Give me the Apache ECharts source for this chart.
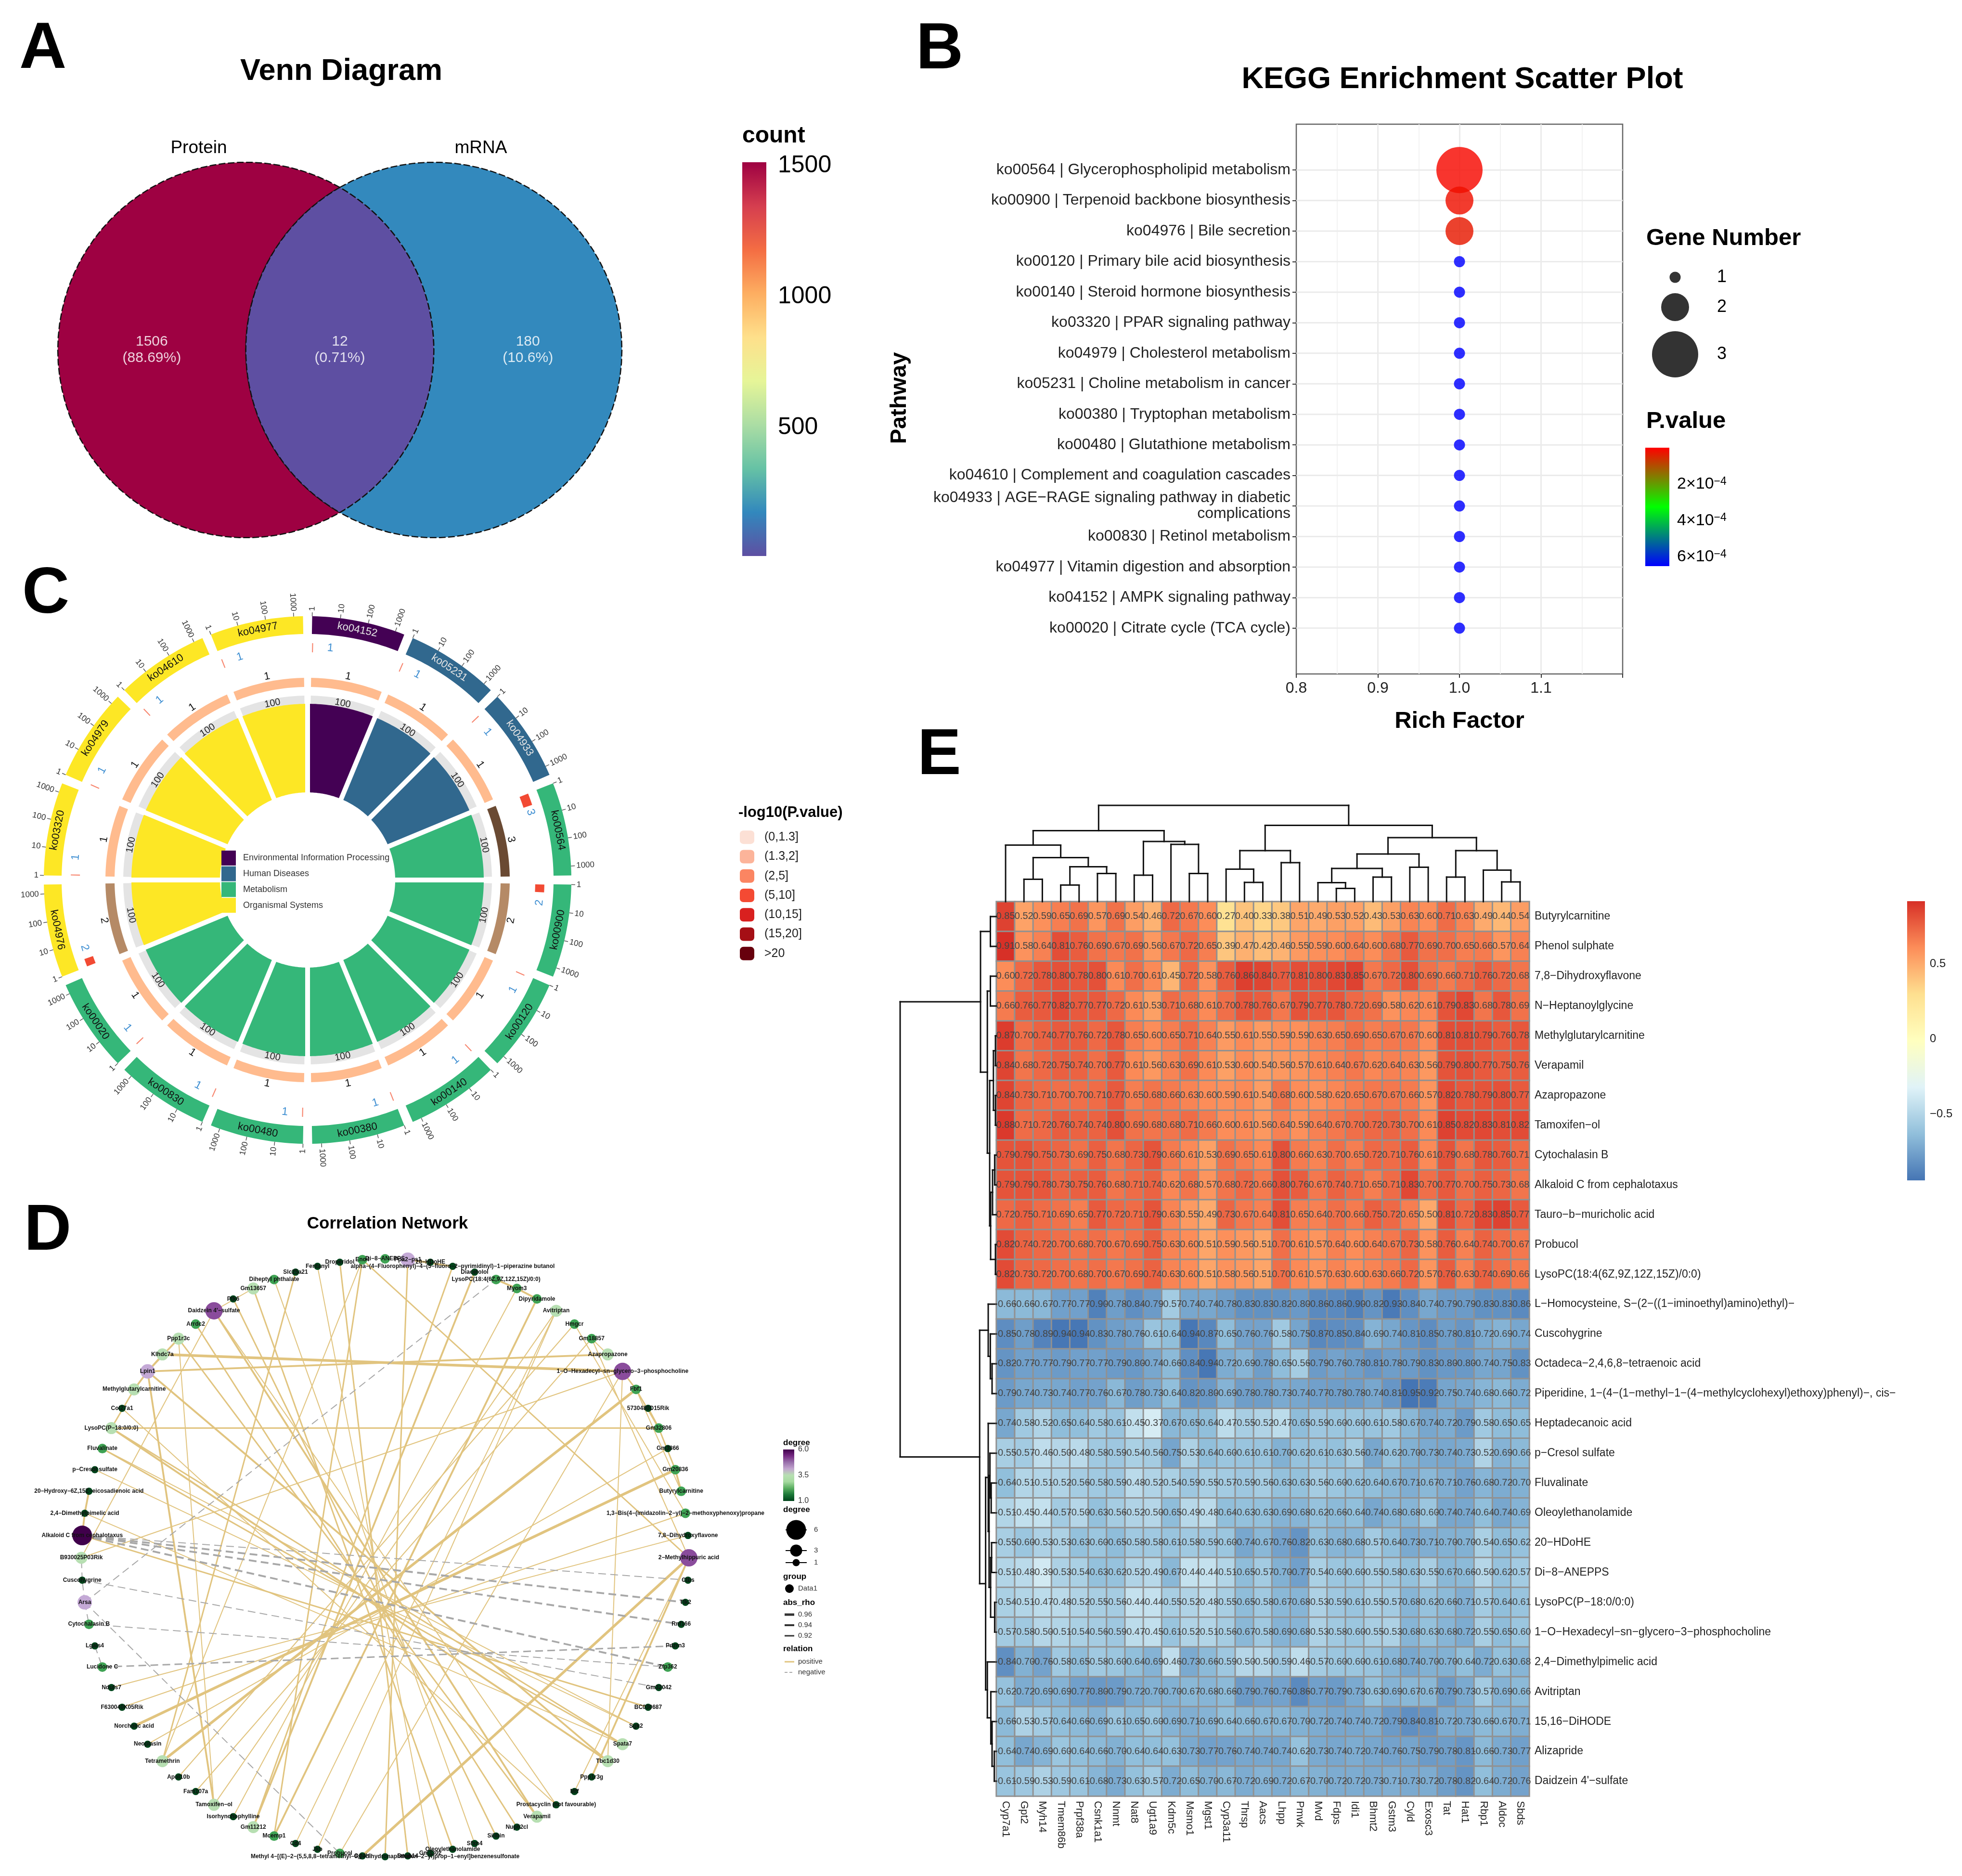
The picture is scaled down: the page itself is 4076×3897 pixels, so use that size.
<!DOCTYPE html>
<html><head><meta charset="utf-8">
<style>html,body{margin:0;padding:0;background:#fff}#c{width:4076px;height:3897px}</style>
<script src="https://cdn.jsdelivr.net/npm/echarts@6/dist/echarts.min.js"></script>
</head><body><div id="c"></div>
<script>
// ---------- DATA ----------
const vennSets=['Protein','mRNA'];
const vennCounts=[1506,12,180];
const vennPercents=['88.69%','0.71%','10.6%'];
const countTicks=[500,1000,1500];
const spectral=['#9E0142','#D53E4F','#F46D43','#FDAE61','#FEE08B','#E6F598','#ABDDA4','#66C2A5','#3288BD','#5E4FA2'];

const keggPathways=['ko00564 | Glycerophospholipid metabolism','ko00900 | Terpenoid backbone biosynthesis','ko04976 | Bile secretion','ko00120 | Primary bile acid biosynthesis','ko00140 | Steroid hormone biosynthesis','ko03320 | PPAR signaling pathway','ko04979 | Cholesterol metabolism','ko05231 | Choline metabolism in cancer','ko00380 | Tryptophan metabolism','ko00480 | Glutathione metabolism','ko04610 | Complement and coagulation cascades','ko04933 | AGE−RAGE signaling pathway in diabetic\ncomplications','ko00830 | Retinol metabolism','ko04977 | Vitamin digestion and absorption','ko04152 | AMPK signaling pathway','ko00020 | Citrate cycle (TCA cycle)'];
const keggRich=[1,1,1,1,1,1,1,1,1,1,1,1,1,1,1,1];
const keggGenes=[3,2,2,1,1,1,1,1,1,1,1,1,1,1,1,1];
const keggP=[0.00001,0.00002,0.00003,0.00065,0.00065,0.00065,0.00065,0.00065,0.00065,0.00065,0.00065,0.00065,0.00065,0.00065,0.00065,0.00065];
const geneSizes={1:23,2:58,3:96};

const goIds=['ko04152','ko05231','ko04933','ko00564','ko00900','ko00120','ko00140','ko00380','ko00480','ko00830','ko00020','ko04976','ko03320','ko04979','ko04610','ko04977'];
const goClass=[0,1,1,2,2,2,2,2,2,2,2,3,3,3,3,3];
const goGenes=[1,1,1,3,2,1,1,1,1,1,1,2,1,1,1,1];
const goRich=[100,100,100,100,100,100,100,100,100,100,100,100,100,100,100,100];
const classNames=['Environmental Information Processing','Human Diseases','Metabolism','Organismal Systems'];
const goAxisTicks=[1,10,100,1000];
const pBins=['(0,1.3]','(1.3,2]','(2,5]','(5,10]','(10,15]','(15,20]','>20'];

const netNodes=['Di−8−ANEPPS','Ppa2−ps1','20−HDoHE','alpha−(4−Fluorophenyl)−4−(5−fluoro−2−pyrimidinyl)−1−piperazine butanol','Diacetolol','LysoPC(18:4(6Z,9Z,12Z,15Z)/0:0)','Myom3','Dipyridamole','Avitriptan','Hmgcr','Gm18857','Azapropazone','1−O−Hexadecyl−sn−glycero−3−phosphocholine','Fbf1','5730480D15Rik','Gm32806','Gm3866','Gm20836','Butyrylcarnitine','1,3−Bis(4−(imidazolin−2−yl)−2−methoxyphenoxy)propane','7,8−Dihydroxyflavone','2−Methylhippuric acid','Ctbs','Tlk2','Rnf166','Pdzrn3','Zfp362','Gm32042','BC030687','Sgk2','Spata7','Tbc1d30','Ppp1r3g','Mff','Prostacyclin (not favourable)','Verapamil','Nup62cl','Silibin','Sfxn4','Oleoylethanolamide','Gm3302','Dnah14','Methyl 4−[(E)−2−(5,5,8,8−tetramethyl−6,7−dihydronaphthalen−2−yl)prop−1−enyl]benzenesulfonate','Ogdhl','Probucol','Jkb','Cd4','Mcemp1','Gm11212','Isorhynchophylline','Tamoxifen−ol','Fam107a','Apol10b','Tetramethrin','Neoplasin','Norcholic acid','F630040K05Rik','Ndufs7','Lucidone C','Lgals4','Cytochalasin B','Arsa','Cuscohygrine','B930025P03Rik','Alkaloid C from cephalotaxus','2,4−Dimethylpimelic acid','20−Hydroxy−6Z,15Z−eicosadienoic acid','p−Cresol sulfate','Fluvalinate','LysoPC(P−18:0/0:0)','Col27a1','Methylglutarylcarnitine','Lpin1','Klhdc7a','Ppp1r3c','Arrdc2','Daidzein 4\'−sulfate','Ptk6','Gm13657','Diheptyl phthalate','Slc25a21','Fentanyl','Droperidol','Eno4'];
const netDegree=[2,4,1,1,1,2,2,2,3,2,2,3,5,2,1,2,1,2,2,2,1,5,1,1,1,1,2,1,1,1,3,3,1,1,1,3,1,1,1,1,1,1,1,1,2,1,1,2,3,1,3,1,1,3,1,1,1,1,2,1,2,4,1,3,6,1,1,1,2,3,1,3,4,3,3,2,5,1,3,2,1,1,1,2];
const edgesPositive=[[1,2,.94],[1,3,.96],[5,6,.96],[6,7,.96],[10,11,.90],[12,13,.94],[13,15,.94],[14,15,.95],[15,17,.93],[17,18,.95],[76,78,.90],[72,73,.94],[72,74,.95],[72,71,.95],[71,69,.94],[66,65,.96],[65,64,.95],
[73,12,.97],[72,11,.95],[69,15,.93],[72,50,.95],[72,31,.95],[74,50,.90],[74,35,.93],[76,35,.95],[76,34,.92],[76,63,.91],[75,36,.93],[77,37,.94],[78,39,.94],[79,38,.90],[80,53,.94],[81,40,.90],[82,41,.93],[1,42,.93],[83,47,.93],[83,53,.90],[83,21,.93],[3,48,.93],[4,48,.96],[6,49,.90],[7,47,.95],[8,45,.92],[8,46,.91],[8,50,.90],[9,52,.90],[10,51,.90],[12,63,.92],[12,31,.92],[12,44,.90],[13,53,.97],[16,54,.91],[17,55,.97],[19,56,.92],[20,57,.92],
[64,28,.94],[69,31,.96],[69,30,.93],[68,30,.94],[68,29,.90],[67,29,.90],[65,30,.91],[70,34,.91],[21,43,.97],[21,32,.96],[21,33,.90],[9,19,.91],[10,21,.91],[13,18,.92]];
const edgesNegative=[[64,22,.90],[64,23,.95],[64,24,.96],[64,26,.96],[62,27,.92],[60,26,.91],[58,25,.93],[61,5,.92],[61,44,.92],[61,60,.91],[61,62,.91],[62,63,.91],[59,58,.91]];

const heatCols=['Cyp7a1','Gpt2','Myh14','Tmem86b','Prpf38a','Csnk1a1','Nnmt','Nat8','Ugt1a9','Kdm5c','Msmo1','Mgst1','Cyp3a11','Thrsp','Aacs','Lhpp','Pmvk','Mvd','Fdps','Idi1','Bhmt2','Gstm3','Cyld','Exosc3','Tat','Hat1','Rbp1','Aldoc','Sbds'];
const heatRows=['Butyrylcarnitine','Phenol sulphate','7,8−Dihydroxyflavone','N−Heptanoylglycine','Methylglutarylcarnitine','Verapamil','Azapropazone','Tamoxifen−ol','Cytochalasin B','Alkaloid C from cephalotaxus','Tauro−b−muricholic acid','Probucol','LysoPC(18:4(6Z,9Z,12Z,15Z)/0:0)','L−Homocysteine, S−(2−((1−iminoethyl)amino)ethyl)−','Cuscohygrine','Octadeca−2,4,6,8−tetraenoic acid','Piperidine, 1−(4−(1−methyl−1−(4−methylcyclohexyl)ethoxy)phenyl)−, cis−','Heptadecanoic acid','p−Cresol sulfate','Fluvalinate','Oleoylethanolamide','20−HDoHE','Di−8−ANEPPS','LysoPC(P−18:0/0:0)','1−O−Hexadecyl−sn−glycero−3−phosphocholine','2,4−Dimethylpimelic acid','Avitriptan','15,16−DiHODE','Alizapride','Daidzein 4\'−sulfate'];
const heatUpper=[ // positive correlations, hundredths
[85,52,59,65,69,57,69,54,46,72,67,60,27,40,33,38,51,49,53,52,43,53,63,60,71,63,49,44,54],
[91,58,64,81,76,69,67,69,56,67,72,65,39,47,42,46,55,59,60,64,60,68,77,69,70,65,66,57,64],
[60,72,78,80,78,80,61,70,61,45,72,58,76,86,84,77,81,80,83,85,67,72,80,69,66,71,76,72,68],
[66,76,77,82,77,77,72,61,53,71,68,61,70,78,76,67,79,77,78,72,69,58,62,61,79,83,68,78,69],
[87,70,74,77,76,72,78,65,60,65,71,64,55,61,55,59,59,63,65,69,65,67,67,60,81,81,79,76,78],
[84,68,72,75,74,70,77,61,56,63,69,61,53,60,54,56,57,61,64,67,62,64,63,56,79,80,77,75,76],
[84,73,71,70,70,71,77,65,68,66,63,60,59,61,54,68,60,58,62,65,67,67,66,57,82,78,79,80,77],
[88,71,72,76,74,74,80,69,68,68,71,66,60,61,56,64,59,64,67,70,72,73,70,61,85,82,83,81,82],
[79,79,75,73,69,75,68,73,79,66,61,53,69,65,61,80,66,63,70,65,72,71,76,61,79,68,78,76,71],
[79,79,78,73,75,76,68,71,74,62,68,57,68,72,66,80,76,67,74,71,65,71,83,70,77,70,75,73,68],
[72,75,71,69,65,77,72,71,79,63,55,49,73,67,64,81,65,64,70,66,75,72,65,50,81,72,83,85,77],
[82,74,72,70,68,70,67,69,75,63,60,51,59,56,51,70,61,57,64,60,64,67,73,58,76,64,74,70,67],
[82,73,72,70,68,70,67,69,74,63,60,51,58,56,51,70,61,57,63,60,63,66,72,57,76,63,74,69,66]];
const heatLower=[ // negative correlations, magnitude in hundredths
[66,66,67,77,77,90,78,84,79,57,74,74,78,83,83,82,80,86,86,90,82,93,84,74,79,79,83,83,86],
[85,78,89,94,94,83,78,76,61,64,94,87,65,76,76,58,75,87,85,84,69,74,81,85,78,81,72,69,74],
[82,77,77,79,77,77,79,80,74,66,84,94,72,69,78,65,56,79,76,78,81,78,79,83,80,80,74,75,83],
[79,74,73,74,77,76,67,78,73,64,82,80,69,78,78,73,74,77,78,78,74,81,95,92,75,74,68,66,72],
[74,58,52,65,64,58,61,45,37,67,65,64,47,55,52,47,65,59,60,60,61,58,67,74,72,79,58,65,65],
[55,57,46,50,48,58,59,54,56,75,53,64,60,61,61,70,62,61,63,56,74,62,70,73,74,73,52,69,66],
[64,51,51,52,56,58,59,48,52,54,59,55,57,59,56,63,63,56,60,62,64,67,71,67,71,76,68,72,70],
[51,45,44,57,50,63,56,52,50,65,49,48,64,63,63,69,68,62,66,64,74,68,68,60,74,74,64,74,69],
[55,60,53,53,63,60,65,58,58,61,58,59,60,74,67,76,82,63,68,68,57,64,73,71,70,70,54,65,62],
[51,48,39,53,54,63,62,52,49,67,44,44,51,65,57,70,77,54,60,60,55,58,63,55,67,66,50,62,57],
[54,51,47,48,52,55,56,44,44,55,52,48,55,65,58,67,68,53,59,61,55,57,68,62,66,71,57,64,61],
[57,58,50,51,54,56,59,47,45,61,52,51,56,67,58,69,68,53,58,60,55,53,68,63,68,72,55,65,60],
[84,70,76,58,65,58,60,64,69,46,73,66,59,50,50,59,46,57,60,60,61,68,74,70,70,64,72,63,68],
[62,72,69,69,77,80,79,72,70,70,67,68,66,79,76,76,86,77,79,73,63,69,67,67,79,73,57,69,66],
[66,53,57,64,66,69,61,65,60,69,71,69,64,66,67,67,70,72,74,74,72,79,84,81,72,73,66,67,71],
[64,74,69,60,64,66,70,64,64,63,73,77,76,74,74,74,62,73,74,72,74,76,75,79,78,81,66,73,77],
[61,59,53,59,61,68,73,63,57,72,65,70,67,72,69,72,67,70,72,72,73,71,73,72,78,82,64,72,76]];
// dendrograms: nested [left,right,height]; leaves are column / row indices
const colTree=[
 [[0,[[1,2,.233],[[3,4,.172],[5,6,.292],.363],.458],.587],[[7,8,.275],[9,[10,11,.292],.595],.625],.737],
 [[[12,[13,14,.2],.338],[15,16,.405],.53],[[[[17,[18,19,.137],.197],[20,21,.255],.345],[22,23,.358],.495],[[24,25,.255],[26,[27,28,.205],.328],.53],.665],.792],
 1];
const rowTree=[
 [[0,1,.0625],[[2,3,.0625],[[[4,5,.01],[6,7,.01],.031],[[[8,9,.018],10,.04],[11,12,.01],.06],.07],.094],.165],
 [[13,[14,[15,16,.045],.063],.085],[[17,[[18,[19,20,.054],.067],[[21,22,.05],[23,24,.018],.06],.076],.085],[25,[26,[27,[28,29,.022],.045],.058],.094],.112],.174],
 1];

// ---------- HELPERS ----------
const FF='Liberation Sans';
const grid=[],xAxis=[],yAxis=[],series=[],graphic=[],visualMap=[];
function addGrid(r,xa,ya){grid.push({left:r.x,top:r.y,width:r.w,height:r.h,show:!!r.show,borderColor:r.bc,borderWidth:r.bw||0,backgroundColor:'transparent'});
 const i=grid.length-1;xAxis.push(Object.assign({gridIndex:i},xa));yAxis.push(Object.assign({gridIndex:i},ya));return i;}
const hid=(o)=>Object.assign({type:'value',show:false,splitLine:{show:false},axisLine:{onZero:false}},o);
function gText(text,x,y,size,o){o=o||{};graphic.push({type:'text',x,y,rotation:o.rot||0,z:50,silent:true,style:{text,fontSize:size,fontWeight:o.bold?'bold':'normal',fontFamily:FF,fill:o.fill||'#000',align:o.align||'left',verticalAlign:'middle'}});}
function colorBar(r,min,max,stops,ticks,fmt,lab,inverse){
 const g=addGrid(r,hid({min:0,max:1}),{type:'value',min,max,inverse:!!inverse,position:'right',splitLine:{show:false},axisLine:{show:false,onZero:false},
  axisTick:{show:true,customValues:ticks,inside:true,length:Math.max(5,r.w*0.2),lineStyle:{color:'#fff',width:1.5}},
  axisLabel:Object.assign({customValues:ticks,formatter:fmt,color:'#000',fontFamily:FF},lab)});
 const n=stops.length;
 series.push({type:'custom',xAxisIndex:g,yAxisIndex:g,silent:true,data:[[0,min,1,max]],z:3,
  renderItem:(p,api)=>{const a=api.coord([api.value(0),api.value(1)]),b=api.coord([api.value(2),api.value(3)]);
   return {type:'rect',shape:{x:Math.min(a[0],b[0]),y:Math.min(a[1],b[1]),width:Math.abs(a[0]-b[0]),height:Math.abs(a[1]-b[1])},
    style:{fill:new echarts.graphic.LinearGradient(0,0,0,1,stops.map((c,i)=>({offset:i/(n-1),color:c})))}};}});
}
const chartTitles=[];
const heading=(text,x,y,size)=>chartTitles.push({text,left:x,top:y,textAlign:'center',textVerticalAlign:'middle',textStyle:{fontSize:size,fontWeight:'bold',color:'#000',fontFamily:FF}});
[['A',40,103],['B',1903,104],['C',46,1235],['D',50,2558],['E',1906,1570]].forEach(l=>gText(l[0],l[1],l[2],136,{bold:true}));

// ---------- PANEL A ----------
heading('Venn Diagram',704,144,63);
gText(vennSets[0],413,308,37,{align:'center'});gText(vennSets[1],999,308,37,{align:'center'});
gText('count',1542,283,48,{bold:true});
(function(){
 const g=addGrid({x:120,y:337,w:1172,h:780},hid({min:0,max:3}),hid({min:-1,max:1}));
 const arc=(cx,a0,a1)=>{const o=[];for(let k=0;k<=60;k++){const t=(a0+(a1-a0)*k/60)*Math.PI/180;o.push([cx+Math.cos(t),Math.sin(t)]);}return o;};
 const shapes=[()=>arc(1,60,300).concat(arc(2,240,120)),()=>arc(1,-60,60).concat(arc(2,120,240)),()=>arc(2,120,-120).concat(arc(1,-60,60))];
 const labelX=[.5,1.5,2.5];
 series.push({type:'custom',xAxisIndex:g,yAxisIndex:g,silent:true,z:2,
  data:vennCounts.map((c,i)=>[labelX[i],0,c]),
  renderItem:(p,api)=>{const i=p.dataIndex,c=api.coord([api.value(0),api.value(1)]);
   return {type:'group',children:[
    {type:'polygon',shape:{points:shapes[i]().map(q=>api.coord(q))},style:{fill:api.visual('color'),stroke:'#111',lineWidth:2.5,lineDash:[14,5]}},
    {type:'text',x:c[0],y:c[1],z2:5,style:{text:vennCounts[i]+'\n('+vennPercents[i]+')',fontSize:30,lineHeight:34,fontFamily:FF,fill:'rgba(255,255,255,.82)',align:'center',verticalAlign:'middle'}}]};}});
 visualMap.push({show:false,seriesIndex:series.length-1,dimension:2,min:12,max:1506,inRange:{color:spectral.slice().reverse()}});
})();
colorBar({x:1542,y:337,w:50,h:818},9,1513,spectral,countTicks,v=>String(v),{fontSize:50,margin:24});

// ---------- PANEL B ----------
heading('KEGG Enrichment Scatter Plot',3033,161,63);
gText('Pathway',1869,827,47,{bold:true,rot:Math.PI/2,align:'center'});
gText('Rich Factor',3032,1498,49,{bold:true,align:'center'});
gText('Gene Number',3420,495,49,{bold:true});
gText('P.value',3420,875,49,{bold:true});
(function(){
 const idx=keggPathways.map((_,i)=>i);
 const g=addGrid({x:2693,y:258,w:678,h:1142,show:true,bc:'#666',bw:2.5},
  {type:'value',min:.8,max:1.2,interval:.1,
   axisLine:{show:false,onZero:false},axisTick:{length:8,lineStyle:{color:'#333',width:2}},
   axisLabel:{customValues:[.8,.9,1,1.1],formatter:v=>v.toFixed(1),fontSize:32,color:'#222',margin:14,fontFamily:FF},
   splitLine:{show:true,showMinLine:false,showMaxLine:false,lineStyle:{color:'#ebebeb',width:3}},minorTick:{show:false,splitNumber:2},minorSplitLine:{show:true,lineStyle:{color:'#f2f2f2',width:2}}},
  {type:'value',min:-1.5,max:16.5,inverse:true,
   axisLine:{show:false,onZero:false},axisTick:{length:8,customValues:idx,lineStyle:{color:'#333',width:2}},
   axisLabel:{customValues:idx,formatter:v=>keggPathways[v]||'',fontSize:32,lineHeight:33,color:'#222',margin:12,align:'right',fontFamily:FF},
   splitLine:{show:false}});
 // horizontal gridline per pathway
 series.push({type:'custom',xAxisIndex:g,yAxisIndex:g,silent:true,z:1,data:idx.map(i=>[.8,i,1.2,i]),
  renderItem:(p,api)=>{const a=api.coord([api.value(0),api.value(1)]),b=api.coord([api.value(2),api.value(3)]);
   return {type:'line',shape:{x1:a[0],y1:a[1],x2:b[0],y2:b[1]},style:{stroke:'#ebebeb',lineWidth:3}};}});
 series.push({type:'scatter',xAxisIndex:g,yAxisIndex:g,silent:true,z:4,
  data:idx.map(i=>[keggRich[i],i,keggP[i],keggGenes[i]]),
  symbolSize:v=>geneSizes[v[3]],itemStyle:{opacity:.82}});
 visualMap.push({show:false,seriesIndex:series.length-1,dimension:2,min:0,max:.00065,inRange:{color:['#FF0000','#00FF00','#0000FF']}});
 [[1,576],[2,638],[3,736]].forEach(d=>{graphic.push({type:'circle',z:40,shape:{cx:3480,cy:d[1],r:geneSizes[d[0]]/2},style:{fill:'#333'}});gText(String(d[0]),3567,d[1],36);});
 const lab=v=>'{a|'+Math.round(v*1e4)+'×10}{b|−4}';
 colorBar({x:3418,y:930,w:50,h:246},0,.00065,['#FF0000','#00FF00','#0000FF'],[.0002,.0004,.0006],lab,{margin:16,rich:{a:{fontSize:34,fontFamily:FF,color:'#000'},b:{fontSize:23,fontFamily:FF,color:'#000',verticalAlign:'top',padding:[0,0,10,0]}}},true);
})();

// ---------- PANEL C ----------
(function(){
 const classColor=['#440154','#31688E','#35B779','#FDE725'];
 const geneColor={1:'#FFBB8E',2:'#B58A66',3:'#6A4A33'};
 const redLen={1:.25,2:1.9,3:2.9};
 const step=360/goIds.length;
 const ring=(api,r0,r1,a0,a1)=>{const pts=[];const n=Math.max(2,Math.ceil(a1-a0));
   for(let k=0;k<=n;k++)pts.push(api.coord([r1,a0+(a1-a0)*k/n]));
   for(let k=n;k>=0;k--)pts.push(api.coord([r0,a0+(a1-a0)*k/n]));return pts;};
 const wedge=(api,r0,r1,s,e,g)=>{const pts=[];const off=r=>Math.asin(g/r)*180/Math.PI;const n=24;
   for(let k=0;k<=n;k++){const a0=s+off(r1),a1=e-off(r1);pts.push(api.coord([r1,a0+(a1-a0)*k/n]));}
   for(let k=n;k>=0;k--){const a0=s+off(r0),a1=e-off(r0);pts.push(api.coord([r0,a0+(a1-a0)*k/n]));}return pts;};
 const tang=a=>{a=(a+360)%360;const d=(a<90||a>270)?a:a-180;return -d*Math.PI/180;};
 const txt=(api,s,r,a,size,fill,rot,align)=>{const c=api.coord([r,a]);return {type:'text',x:c[0],y:c[1],rotation:rot,z2:6,style:{text:s,fontSize:size,fontFamily:FF,fill,align:align||'center',verticalAlign:'middle'}};};
 series.push({type:'custom',coordinateSystem:'polar',polarIndex:0,silent:true,z:2,clip:false,
  data:goIds.map((_,i)=>[goRich[i],i]),
  renderItem:(p,api)=>{const i=p.dataIndex,s=i*step,e=s+step,a0=s+1,a1=e-1,mid=s+step/2,cc=classColor[goClass[i]],gn=goGenes[i],ch=[];
   const poly=(pts,fill)=>ch.push({type:'polygon',shape:{points:pts},style:{fill}});
   poly(ring(api,511,548,a0,a1),cc);
   poly(ring(api,401,420,a0,a1),geneColor[gn]);
   poly(ring(api,364,383,a0,a1),'#E4E4E4');
   poly(wedge(api,182,182+184*goRich[i]/100,s,e,5),cc);
   poly(ring(api,473,492,a0+.1,a0+.1+redLen[gn]),gn>1?'#F24A33':'#F7866F');
   const rotT=tang(mid);
   ch.push(txt(api,goIds[i],530,mid,22,goClass[i]<2?'#e4e4e4':'#111',rotT));
   ch.push(txt(api,String(goRich[i]),374,mid,20,'#222',rotT));
   ch.push(txt(api,String(gn),431,mid,22,'#111',rotT));
   ch.push(txt(api,String(gn),484,a0+4.6,23,'#3F8FD2',tang(a0+4.6)));
   goAxisTicks.forEach(t=>{const a=a0+(a1-a0)*Math.log10(t)/3.33,p0=api.coord([548,a]),p1=api.coord([556,a]);
    ch.push({type:'line',shape:{x1:p0[0],y1:p0[1],x2:p1[0],y2:p1[1]},style:{stroke:'#555',lineWidth:1.5}});
    const right=a<180,rot=(right?90-a:270-a)*Math.PI/180;
    ch.push(txt(api,String(t),559,a,17,'#333',rot,right?'left':'right'));});
   return {type:'group',children:ch};}});
 // centre legend
 const g=addGrid({x:460,y:1766,w:30,h:131},hid({min:0,max:1}),{type:'category',inverse:true,data:classNames,axisLine:{show:false},axisTick:{show:false},position:'right',
   axisLabel:{fontSize:18,color:'#333',margin:15,interval:0,fontFamily:FF}});
 series.push({type:'scatter',xAxisIndex:g,yAxisIndex:g,silent:true,z:6,symbol:'rect',symbolSize:[30,31],
   data:classNames.map((n,i)=>({value:[.5,i],itemStyle:{color:classColor[i],opacity:1}}))});
 // -log10 legend
 gText('-log10(P.value)',1534,1688,31,{bold:true});
 const binColor=['#FCE0D5','#FCB49A','#FB8562','#F44A33','#D9201F','#A50F15','#67000D'];
 const g2=addGrid({x:1530,y:1719,w:44,h:282},hid({min:0,max:1}),{type:'category',inverse:true,data:pBins,axisLine:{show:false},axisTick:{show:false},position:'right',
   axisLabel:{fontSize:25,color:'#222',margin:14,interval:0,fontFamily:FF}});
 series.push({type:'scatter',xAxisIndex:g2,yAxisIndex:g2,silent:true,symbol:'roundRect',symbolSize:[30,28],
   data:pBins.map((n,i)=>({value:[.5,i],itemStyle:{color:binColor[i],opacity:1}}))});
})();

// ---------- PANEL D ----------
heading('Correlation Network',800,2537,35);
(function(){
 const g=addGrid({x:169,y:2615,w:1262,h:1242},hid({min:-1,max:1}),hid({min:-1,max:1}));
 const degColor={1:'#00441B',2:'#3FA354',3:'#B7DFB2',4:'#C4A9D6',5:'#8A4C9C',6:'#40004B'};
 const degSize={1:15,2:20,3:25,4:30,5:36,6:41};
 const rhoW=r=>r>=.965?5.5:r>=.945?3.8:r>=.925?3:2;
 const links=edgesPositive.map(e=>({source:e[0],target:e[1],lineStyle:{color:'#E1C47F',width:rhoW(e[2]),opacity:1,type:'solid'}}))
  .concat(edgesNegative.map(e=>({source:e[0],target:e[1],lineStyle:{color:'#A8A8A8',width:rhoW(e[2]),opacity:1,type:[16,9]}})));
 series.push({type:'graph',coordinateSystem:'cartesian2d',xAxisIndex:g,yAxisIndex:g,silent:true,z:3,
  data:netNodes.map((n,i)=>({name:n,value:[Math.sin(2*Math.PI*i/netNodes.length),Math.cos(2*Math.PI*i/netNodes.length)],symbolSize:degSize[netDegree[i]],itemStyle:{color:degColor[netDegree[i]]}})),
  links,label:{show:true,position:'inside',fontSize:12,fontWeight:'bold',color:'#111',fontFamily:FF,formatter:'{b}'},labelLayout:{hideOverlap:false},emphasis:{disabled:true}});
 // legends
 gText('degree',1627,2997,17,{bold:true});
 colorBar({x:1627,y:3011,w:23,h:107},1,6,['#40004B','#762A83','#9970AB','#C2A5CF','#B7DFB2','#A6DBA0','#5AAE61','#1B7837','#00441B'],[1,3.5,6],v=>v.toFixed(1),{fontSize:16,margin:8,color:'#333'});
 gText('degree',1627,3136,17,{bold:true});
 [[6,3178,41],[3,3221,25],[1,3246,15]].forEach(d=>{
  graphic.push({type:'line',z:40,shape:{x1:1632,y1:d[1],x2:1676,y2:d[1]},style:{stroke:'#000',lineWidth:2}});
  graphic.push({type:'circle',z:41,shape:{cx:1654,cy:d[1],r:d[2]/2},style:{fill:'#000'}});gText(String(d[0]),1691,d[1],15,{fill:'#333'});});
 gText('group',1627,3275,17,{bold:true});
 graphic.push({type:'circle',z:41,shape:{cx:1640,cy:3300,r:9},style:{fill:'#000'}});gText('Data1',1658,3300,15,{fill:'#333'});
 gText('abs_rho',1627,3329,17,{bold:true});
 [['0.96',3354,5],['0.94',3376,4],['0.92',3398,3]].forEach(d=>{graphic.push({type:'line',z:40,shape:{x1:1630,y1:d[1],x2:1650,y2:d[1]},style:{stroke:'#333',lineWidth:d[2]}});gText(d[0],1658,d[1],15,{fill:'#333'});});
 gText('relation',1627,3425,17,{bold:true});
 graphic.push({type:'line',z:40,shape:{x1:1630,y1:3452,x2:1650,y2:3452},style:{stroke:'#E1C47F',lineWidth:3}});gText('positive',1658,3452,15,{fill:'#333'});
 graphic.push({type:'line',z:40,shape:{x1:1630,y1:3474,x2:1650,y2:3474},style:{stroke:'#AAA',lineWidth:2,lineDash:[6,4]}});gText('negative',1658,3474,15,{fill:'#333'});
})();

// ---------- PANEL E ----------
(function(){
 const heatPal=['#4575B4','#91BFDB','#E0F3F8','#FFFFBF','#FEE090','#FC8D59','#D73027'];
 const g=addGrid({x:2070,y:1873,w:1107,h:1858},
  {type:'category',data:heatCols,axisLine:{show:false},axisTick:{show:false},splitLine:{show:false},axisLabel:{rotate:-90,interval:0,fontSize:22,color:'#222',margin:10,fontFamily:FF}},
  {type:'category',data:heatRows,inverse:true,position:'right',axisLine:{show:false},axisTick:{show:false},splitLine:{show:false},axisLabel:{interval:0,fontSize:23,color:'#222',margin:11,fontFamily:FF}});
 const cells=[];
 heatUpper.forEach((row,r)=>row.forEach((v,c)=>cells.push([c,r,v/100])));
 heatLower.forEach((row,r)=>row.forEach((v,c)=>cells.push([c,r+heatUpper.length,-v/100])));
 series.push({type:'heatmap',xAxisIndex:g,yAxisIndex:g,silent:true,z:2,data:cells,
  itemStyle:{borderColor:'#919191',borderWidth:3},emphasis:{disabled:true},
  label:{show:true,fontSize:20,color:'#444',fontFamily:FF,formatter:p=>p.value[2].toFixed(2)}});
 visualMap.push({show:false,seriesIndex:series.length-1,dimension:2,min:-.95,max:.91,inRange:{color:heatPal}});
 colorBar({x:3962,y:1872,w:37,h:580},-.94,.917,heatPal.slice().reverse(),[-.5,0,.5],v=>v===-.5?'−0.5':String(v),{fontSize:24,margin:10,color:'#222'});
 function tree(t,segs,horiz){ if(typeof t==='number')return {pos:t,h:0};
  const a=tree(t[0],segs,horiz),b=tree(t[1],segs,horiz),h=t[2];
  const add=(p,q,r,s)=>segs.push(horiz?[q,p,s,r]:[p,q,r,s]);
  add(a.pos,a.h,a.pos,h);add(b.pos,b.h,b.pos,h);add(a.pos,h,b.pos,h);
  return {pos:(a.pos+b.pos)/2,h};}
 const lineItem=(p,api)=>{const a=api.coord([api.value(0),api.value(1)]),b=api.coord([api.value(2),api.value(3)]);
   return {type:'line',shape:{x1:a[0],y1:a[1],x2:b[0],y2:b[1]},style:{stroke:'#111',lineWidth:3,lineCap:'square'}};};
 const gt=addGrid({x:2070,y:1673,w:1107,h:200},hid({min:-.5,max:heatCols.length-.5}),hid({min:0,max:1}));
 const s1=[];tree(colTree,s1,false);
 series.push({type:'custom',xAxisIndex:gt,yAxisIndex:gt,silent:true,data:s1,renderItem:lineItem});
 const gl=addGrid({x:1870,y:1873,w:200,h:1858},hid({min:0,max:1,inverse:true}),hid({min:-.5,max:heatRows.length-.5,inverse:true}));
 const s2=[];tree(rowTree,s2,true);
 series.push({type:'custom',xAxisIndex:gl,yAxisIndex:gl,silent:true,data:s2,renderItem:lineItem});
})();

// ---------- CHART ----------
const chart=echarts.init(document.getElementById('c'),null,{renderer:'canvas'});
chart.setOption({animation:false,backgroundColor:'#fff',textStyle:{fontFamily:FF},
 title:chartTitles,tooltip:{show:false},grid,xAxis,yAxis,series,visualMap,graphic:{elements:graphic},
 polar:[{center:[639,1828],radius:548}],
 angleAxis:[{polarIndex:0,type:'value',min:0,max:360,startAngle:90,clockwise:true,show:false,axisLine:{show:false},axisTick:{show:false},axisLabel:{show:false},splitLine:{show:false}}],
 radiusAxis:[{polarIndex:0,type:'value',min:0,max:548,show:false,axisLine:{show:false},axisTick:{show:false},axisLabel:{show:false},splitLine:{show:false}}]});
</script></body></html>
